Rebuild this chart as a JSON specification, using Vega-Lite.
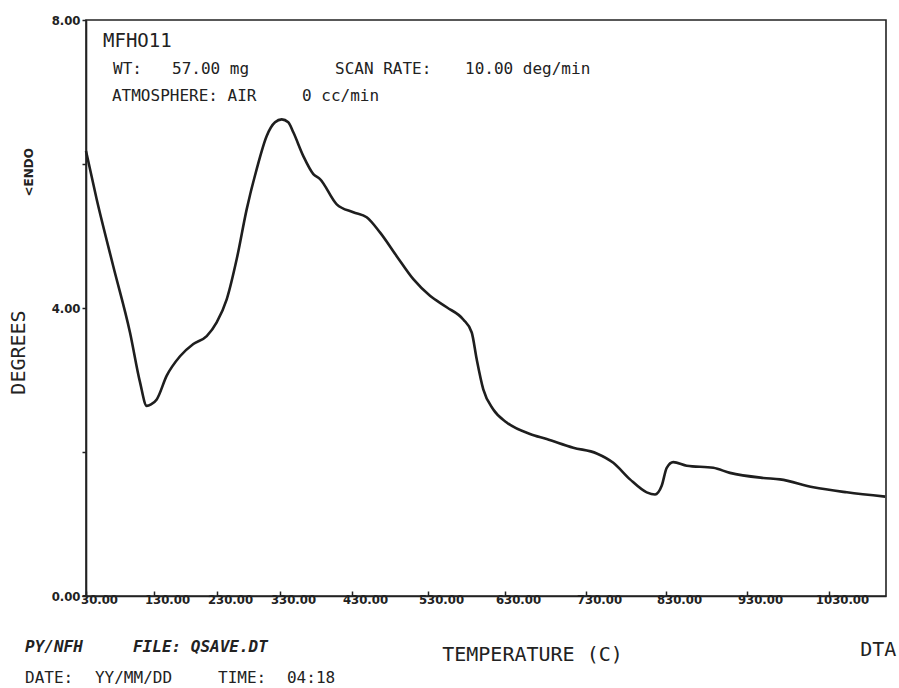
{
  "$schema": "https://vega.github.io/schema/vega-lite/v6.json",
  "width": 800,
  "height": 576,
  "autosize": {"type": "none"},
  "padding": {"left": 86, "top": 20, "right": 13, "bottom": 92},
  "background": "white",
  "config": {"view": {"stroke": "#222222", "strokeWidth": 1.6}},
  "datasets": {
    "curve": [
      {"t": 30, "v": 6.18}, {"t": 45.7, "v": 5.51}, {"t": 70.1, "v": 4.58}, {"t": 94.7, "v": 3.66},
      {"t": 109.4, "v": 2.97}, {"t": 119.3, "v": 2.64}, {"t": 125.6, "v": 2.66}, {"t": 134.3, "v": 2.73},
      {"t": 150.2, "v": 3.06}, {"t": 171.3, "v": 3.33}, {"t": 192.4, "v": 3.5}, {"t": 213.7, "v": 3.61},
      {"t": 229.5, "v": 3.8}, {"t": 245.4, "v": 4.12}, {"t": 261.3, "v": 4.68}, {"t": 277.1, "v": 5.37},
      {"t": 293, "v": 5.93}, {"t": 308.9, "v": 6.39}, {"t": 322.1, "v": 6.58}, {"t": 332.4, "v": 6.62},
      {"t": 341.5, "v": 6.58}, {"t": 348.5, "v": 6.44}, {"t": 362.4, "v": 6.11}, {"t": 376.3, "v": 5.86},
      {"t": 385.6, "v": 5.79}, {"t": 408.8, "v": 5.44}, {"t": 431.7, "v": 5.33}, {"t": 449.3, "v": 5.26},
      {"t": 466.8, "v": 5.05}, {"t": 488.8, "v": 4.72}, {"t": 510.7, "v": 4.4}, {"t": 532.6, "v": 4.17},
      {"t": 554.3, "v": 4.01}, {"t": 575.8, "v": 3.84}, {"t": 586.8, "v": 3.66}, {"t": 593.2, "v": 3.29},
      {"t": 601.8, "v": 2.87}, {"t": 614.8, "v": 2.59}, {"t": 632.1, "v": 2.41}, {"t": 660.9, "v": 2.25},
      {"t": 681.5, "v": 2.18}, {"t": 714.3, "v": 2.06}, {"t": 743.4, "v": 1.98}, {"t": 764.1, "v": 1.85},
      {"t": 785, "v": 1.62}, {"t": 805.9, "v": 1.44}, {"t": 816.3, "v": 1.41}, {"t": 824.6, "v": 1.53},
      {"t": 830.9, "v": 1.78}, {"t": 839, "v": 1.86}, {"t": 855.6, "v": 1.81}, {"t": 888.4, "v": 1.78},
      {"t": 909, "v": 1.71}, {"t": 949.9, "v": 1.64}, {"t": 970.2, "v": 1.62}, {"t": 1010.9, "v": 1.51},
      {"t": 1051.9, "v": 1.44}, {"t": 1099, "v": 1.38}
    ],
    "notes": [
      {"group": "title", "text": "MFHO11", "t": 55, "v": 7.62},
      {"group": "header", "text": "WT:", "t": 69.7, "v": 7.246},
      {"group": "header", "text": "57.00 mg", "t": 158.6, "v": 7.246},
      {"group": "header", "text": "SCAN RATE:", "t": 406.4, "v": 7.246},
      {"group": "header", "text": "10.00 deg/min", "t": 578.1, "v": 7.246},
      {"group": "header", "text": "ATMOSPHERE: AIR", "t": 68.2, "v": 6.871},
      {"group": "header", "text": "0 cc/min", "t": 360.6, "v": 6.871},
      {"group": "italic", "text": "PY/NFH", "t": -59.7, "v": -0.782},
      {"group": "italic", "text": "FILE: QSAVE.DT", "t": 99.1, "v": -0.782},
      {"group": "header", "text": "DATE:", "t": -59.7, "v": -1.2125},
      {"group": "header", "text": "YY/MM/DD", "t": 43.2, "v": -1.2125},
      {"group": "header", "text": "TIME:", "t": 231.6, "v": -1.2125},
      {"group": "header", "text": "04:18", "t": 339.7, "v": -1.2125},
      {"group": "big", "text": "DTA", "t": 1068.3, "v": -0.838},
      {"group": "endo", "text": "<ENDO", "t": -53.8, "v": 5.885}
    ]
  },
  "layer": [
    {
      "data": {"name": "curve"},
      "mark": {"type": "line", "color": "#1e1e1e", "strokeWidth": 2.6, "interpolate": "monotone"},
      "encoding": {
        "x": {
          "field": "t", "type": "quantitative", "title": "TEMPERATURE (C)",
          "scale": {
            "domain": [30, 130, 230, 330, 430, 530, 630, 730, 830, 930, 1030, 1100],
            "range": [0, 68, 131, 194, 266, 342, 419, 500, 580, 661, 743, 800],
            "nice": false, "zero": false
          },
          "axis": {
            "values": [30, 130, 230, 330, 430, 530, 630, 730, 830, 930, 1030],
            "format": ".2f",
            "grid": false,
            "titleFont": "DejaVu Sans Mono", "titleFontSize": 20, "titleFontWeight": "normal",
            "titleColor": "#222222", "titleX": 446, "titleY": 64,
            "titleAlign": "center", "titleBaseline": "alphabetic",
            "labelFont": "DejaVu Sans Condensed, DejaVu Sans", "labelFontSize": 13, "labelFontWeight": "bold",
            "labelColor": "#222222", "labelOffset": 13, "labelPadding": 2,
            "labelFlush": false, "labelOverlap": false,
            "tickSize": -5, "tickColor": "#222222", "tickWidth": 1.5,
            "domainColor": "#222222", "domainWidth": 1.6
          }
        },
        "y": {
          "field": "v", "type": "quantitative", "title": "DEGREES",
          "scale": {"domain": [0, 8], "nice": false, "zero": false},
          "axis": {
            "values": [0, 2, 4, 6, 8],
            "labelExpr": "datum.value % 4 == 0 ? format(datum.value, '.2f') : ''",
            "grid": false,
            "titleFont": "DejaVu Sans Mono", "titleFontSize": 20, "titleFontWeight": "normal",
            "titleColor": "#222222", "titleX": -68, "titleY": 332,
            "titleAlign": "center", "titleBaseline": "middle", "titleAngle": 270,
            "labelFont": "DejaVu Sans Condensed, DejaVu Sans", "labelFontSize": 13, "labelFontWeight": "bold",
            "labelColor": "#222222", "labelPadding": 2, "labelFlush": false, "labelOverlap": false,
            "tickSize": 4, "tickColor": "#222222", "tickWidth": 1.5,
            "domainColor": "#222222", "domainWidth": 1.6
          }
        }
      }
    },
    {
      "data": {"name": "notes"},
      "transform": [{"filter": "datum.group == 'title'"}],
      "mark": {"type": "text", "font": "DejaVu Sans Mono", "fontSize": 19, "align": "left", "baseline": "alphabetic", "color": "#222222"},
      "encoding": {
        "x": {"field": "t", "type": "quantitative", "title": "TEMPERATURE (C)"},
        "y": {"field": "v", "type": "quantitative", "title": "DEGREES"},
        "text": {"field": "text"}
      }
    },
    {
      "data": {"name": "notes"},
      "transform": [{"filter": "datum.group == 'header'"}],
      "mark": {"type": "text", "font": "DejaVu Sans Mono", "fontSize": 16, "align": "left", "baseline": "alphabetic", "color": "#222222"},
      "encoding": {
        "x": {"field": "t", "type": "quantitative", "title": "TEMPERATURE (C)"},
        "y": {"field": "v", "type": "quantitative", "title": "DEGREES"},
        "text": {"field": "text"}
      }
    },
    {
      "data": {"name": "notes"},
      "transform": [{"filter": "datum.group == 'italic'"}],
      "mark": {"type": "text", "font": "DejaVu Sans Mono", "fontSize": 16, "fontStyle": "italic", "fontWeight": "bold", "align": "left", "baseline": "alphabetic", "color": "#222222"},
      "encoding": {
        "x": {"field": "t", "type": "quantitative", "title": "TEMPERATURE (C)"},
        "y": {"field": "v", "type": "quantitative", "title": "DEGREES"},
        "text": {"field": "text"}
      }
    },
    {
      "data": {"name": "notes"},
      "transform": [{"filter": "datum.group == 'big'"}],
      "mark": {"type": "text", "font": "DejaVu Sans Mono", "fontSize": 20, "align": "left", "baseline": "alphabetic", "color": "#222222"},
      "encoding": {
        "x": {"field": "t", "type": "quantitative", "title": "TEMPERATURE (C)"},
        "y": {"field": "v", "type": "quantitative", "title": "DEGREES"},
        "text": {"field": "text"}
      }
    },
    {
      "data": {"name": "notes"},
      "transform": [{"filter": "datum.group == 'endo'"}],
      "mark": {"type": "text", "font": "DejaVu Sans", "fontSize": 12, "fontWeight": "bold", "angle": 270, "align": "center", "baseline": "middle", "color": "#222222"},
      "encoding": {
        "x": {"field": "t", "type": "quantitative", "title": "TEMPERATURE (C)"},
        "y": {"field": "v", "type": "quantitative", "title": "DEGREES"},
        "text": {"field": "text"}
      }
    }
  ]
}
